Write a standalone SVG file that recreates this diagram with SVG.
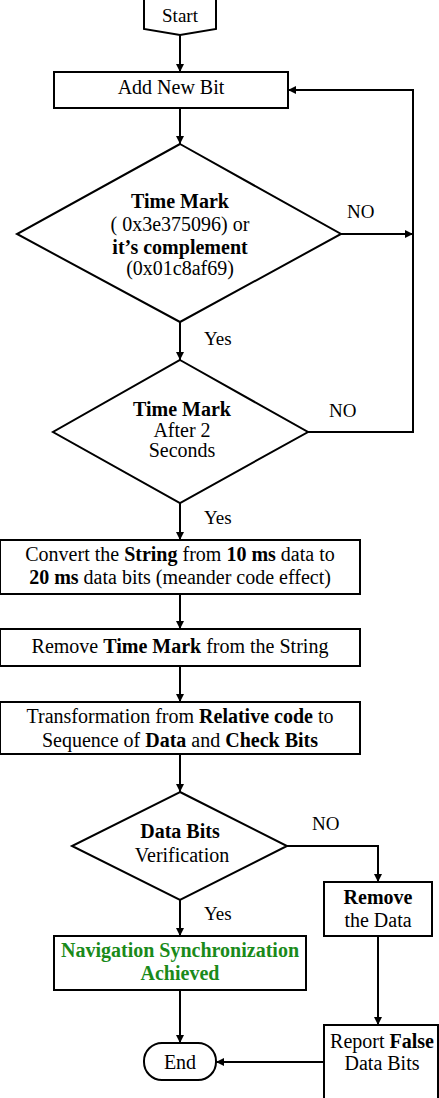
<svg xmlns="http://www.w3.org/2000/svg" width="439" height="1098" viewBox="0 0 439 1098">
<style>
.s{fill:#fff;stroke:#000;stroke-width:2}
.c{fill:none;stroke:#000;stroke-width:2}
text{font-family:"Liberation Serif","Times New Roman",serif;font-size:20px;fill:#000;text-anchor:middle}
.n{font-size:19px}
.b{font-weight:bold}
.g{fill:#1a8a1a;font-weight:bold}
.l{text-anchor:start}
</style>
<defs>
<marker id="a" markerUnits="userSpaceOnUse" markerWidth="9" markerHeight="9" refX="8" refY="4" orient="auto">
<path d="M0,0 L8,4 L0,8 z" fill="#000"/>
</marker>
</defs>
<g id="connectors">
<line class="c" x1="180" y1="35" x2="180" y2="72" marker-end="url(#a)"/>
<line class="c" x1="180" y1="108" x2="180" y2="144" marker-end="url(#a)"/>
<line class="c" x1="341" y1="234" x2="413" y2="234" marker-end="url(#a)"/>
<path class="c" d="M308,432 H413 V90 H288" marker-end="url(#a)"/>
<line class="c" x1="180" y1="322" x2="180" y2="360" marker-end="url(#a)"/>
<line class="c" x1="180" y1="503" x2="180" y2="540" marker-end="url(#a)"/>
<line class="c" x1="180" y1="594" x2="180" y2="629" marker-end="url(#a)"/>
<line class="c" x1="180" y1="666" x2="180" y2="702" marker-end="url(#a)"/>
<line class="c" x1="180" y1="754" x2="180" y2="792" marker-end="url(#a)"/>
<path class="c" d="M287,846 H378 V882" marker-end="url(#a)"/>
<line class="c" x1="180" y1="900" x2="180" y2="936" marker-end="url(#a)"/>
<line class="c" x1="180" y1="990" x2="180" y2="1043" marker-end="url(#a)"/>
<line class="c" x1="378" y1="936" x2="378" y2="1025" marker-end="url(#a)"/>
<line class="c" x1="324" y1="1062" x2="216" y2="1062" marker-end="url(#a)"/>
<text class="l n" x="347" y="218">NO</text>
<text class="l n" x="329" y="417">NO</text>
<text class="l n" x="312" y="830">NO</text>
<text class="l n" x="204" y="345">Yes</text>
<text class="l n" x="204" y="524">Yes</text>
<text class="l n" x="204" y="920">Yes</text>
</g>
<g id="start">
<path class="s" d="M144,-5 V29 L180,35 L216,29 V-5"/>
<text class="n" x="180" y="22">Start</text>
</g>
<g id="add">
<rect class="s" x="54" y="72" width="234" height="36"/>
<text x="171" y="94">Add New Bit</text>
</g>
<g id="d1">
<polygon class="s" points="180,144 341,234 180,322 17,234"/>
<text class="b" x="180" y="208">Time Mark</text>
<text x="180" y="231">( 0x3e375096) or</text>
<text class="b" x="180" y="254">it’s complement</text>
<text x="180" y="275">(0x01c8af69)</text>
</g>
<g id="d2">
<polygon class="s" points="180,360 308,432 180,503 53,432"/>
<text class="b" x="182" y="416">Time Mark</text>
<text x="182" y="437">After 2</text>
<text x="182" y="457">Seconds</text>
</g>
<g id="convert">
<rect class="s" x="0" y="540" width="360" height="54"/>
<text x="180" y="561">Convert the <tspan class="b">String</tspan> from <tspan class="b">10 ms</tspan> data to</text>
<text x="180" y="584"><tspan class="b">20 ms</tspan> data bits (meander code effect)</text>
</g>
<g id="remove-tm">
<rect class="s" x="0" y="629" width="360" height="37"/>
<text x="180" y="653">Remove <tspan class="b">Time Mark</tspan> from the String</text>
</g>
<g id="transform">
<rect class="s" x="0" y="702" width="360" height="52"/>
<text x="180" y="723">Transformation from <tspan class="b">Relative code</tspan> to</text>
<text x="180" y="747">Sequence of <tspan class="b">Data</tspan> and <tspan class="b">Check Bits</tspan></text>
</g>
<g id="d3">
<polygon class="s" points="180,792 287,846 180,900 72,846"/>
<text class="b" x="180" y="838">Data Bits</text>
<text x="182" y="862">Verification</text>
</g>
<g id="remove-data">
<rect class="s" x="324" y="882" width="108" height="54"/>
<text class="b" x="378" y="904">Remove</text>
<text x="378" y="927">the Data</text>
</g>
<g id="nav">
<rect class="s" x="54" y="936" width="252" height="54"/>
<text class="g" x="180" y="957">Navigation Synchronization</text>
<text class="g" x="180" y="980">Achieved</text>
</g>
<g id="end">
<rect class="s" x="144" y="1043" width="72" height="37" rx="18" ry="18"/>
<text x="180" y="1069">End</text>
</g>
<g id="report">
<rect class="s" x="324" y="1025" width="114" height="90"/>
<text x="382" y="1048">Report <tspan class="b">False</tspan></text>
<text x="382" y="1070">Data Bits</text>
</g>
</svg>
